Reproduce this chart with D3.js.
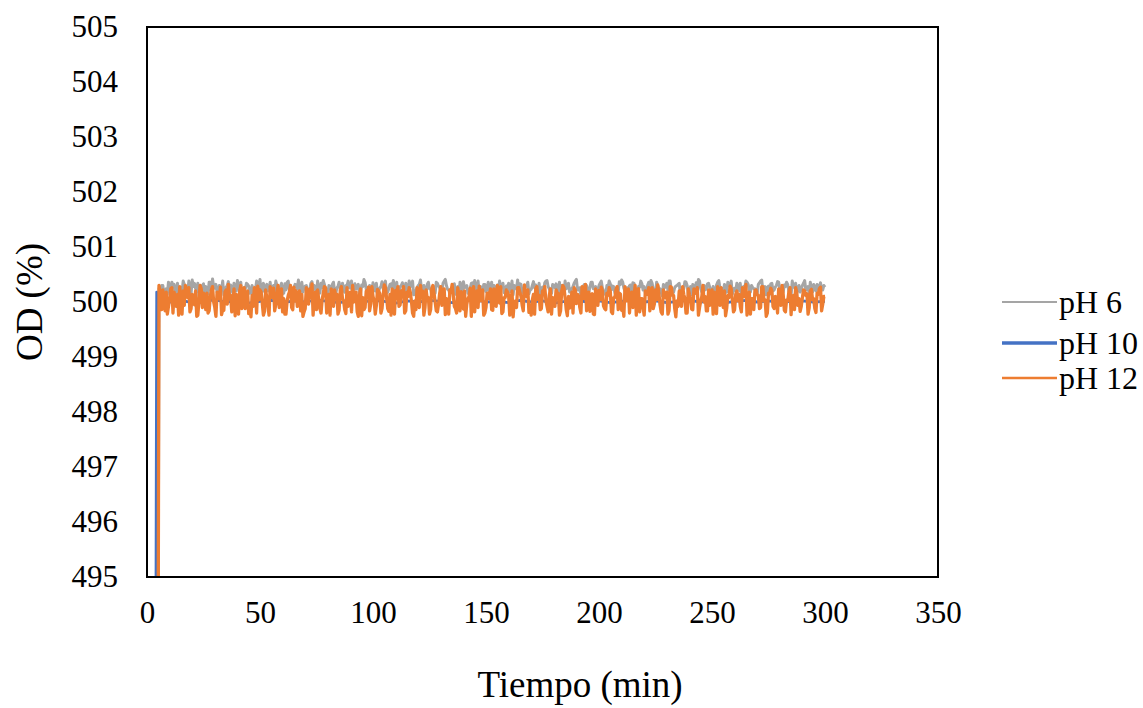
<!DOCTYPE html>
<html><head><meta charset="utf-8">
<script src="https://cdn.jsdelivr.net/npm/d3@7/dist/d3.min.js"></script>
<style>body{margin:0;background:#fff}svg{display:block}text{font-family:"Liberation Serif","Times New Roman",serif;fill:#000}</style>
</head><body><svg id="c" width="1143" height="708"></svg>
<script>
const xTicks=[0,50,100,150,200,250,300,350];
const yTicks=[495,496,497,498,499,500,501,502,503,504,505];
const seriesNames=["pH 6","pH 10","pH 12"];
const seriesColors=["#A5A5A5","#4472C4","#ED7D31"];
// start points (rise from 495)
const startPH6=[[5,495],[5.3,500.25]];
const startPH10=[[4,495],[4.3,500.18]];
const startPH12=[[5,495],[5.3,500.3]];
// readings on the whole minute, t = 6..300
const ph6=[500.22,500.30,500.18,500.14,500.28,500.36,500.32,500.20,500.12,500.26,
500.38,500.24,500.16,500.30,500.40,500.34,500.19,500.11,500.22,500.33,
500.28,500.15,500.36,500.42,500.25,500.18,500.30,500.22,500.13,500.27,
500.37,500.31,500.17,500.24,500.39,500.20,500.12,500.26,500.34,500.29,
500.16,500.10,500.23,500.35,500.41,500.28,500.19,500.32,500.24,500.14,
500.30,500.38,500.21,500.27,500.15,500.33,500.36,500.22,500.12,500.25,
500.31,500.40,500.26,500.18,500.29,500.14,500.23,500.37,500.30,500.16,
500.21,500.34,500.39,500.24,500.13,500.28,500.32,500.19,500.26,500.36,
500.11,500.22,500.30,500.38,500.25,500.17,500.33,500.27,500.14,500.31,
500.41,500.23,500.18,500.29,500.35,500.20,500.12,500.26,500.37,500.30,
500.16,500.24,500.33,500.39,500.22,500.14,500.28,500.35,500.19,500.26,
500.38,500.31,500.13,500.21,500.30,500.40,500.25,500.17,500.32,500.24,
500.11,500.27,500.36,500.29,500.18,500.34,500.41,500.23,500.15,500.26,
500.33,500.20,500.12,500.30,500.37,500.28,500.16,500.24,500.35,500.39,
500.22,500.14,500.27,500.32,500.19,500.36,500.25,500.10,500.21,500.31,
500.38,500.26,500.17,500.29,500.34,500.22,500.13,500.28,500.40,500.33,
500.18,500.24,500.30,500.15,500.23,500.37,500.31,500.20,500.12,500.27,
500.35,500.39,500.24,500.16,500.29,500.33,500.21,500.14,500.26,500.38,
500.30,500.18,500.25,500.34,500.41,500.22,500.11,500.28,500.32,500.19,
500.27,500.36,500.24,500.15,500.30,500.38,500.21,500.13,500.26,500.33,
500.29,500.17,500.24,500.37,500.40,500.25,500.14,500.22,500.31,500.35,
500.19,500.12,500.27,500.33,500.28,500.16,500.36,500.39,500.23,500.15,
500.30,500.24,500.11,500.26,500.34,500.38,500.21,500.18,500.29,500.32,
500.14,500.25,500.37,500.30,500.20,500.13,500.28,500.35,500.41,500.24,
500.16,500.22,500.33,500.27,500.12,500.19,500.31,500.39,500.26,500.17,
500.23,500.36,500.30,500.14,500.25,500.34,500.21,500.10,500.28,500.38,
500.32,500.18,500.26,500.24,500.15,500.35,500.40,500.22,500.13,500.29,
500.33,500.20,500.27,500.37,500.24,500.16,500.31,500.36,500.19,500.12,
500.28,500.34,500.25,500.18,500.30,500.39,500.23,500.14,500.26,500.32,
500.20,500.29,500.35,500.22,500.27];
// readings on the half minute, t = 6.5..299.5
const ph6Half=[500.30,500.16,500.24,500.36,500.20,500.28,500.14,500.34,500.26,500.18,
500.32,500.22,500.38,500.15,500.28,500.24,500.34,500.18,500.30,500.12,
500.26,500.36,500.20,500.28,500.32,500.16,500.24,500.38,500.22,500.30,
500.14,500.26,500.34,500.20,500.28,500.36,500.18,500.24,500.32,500.16,
500.30,500.22,500.38,500.26,500.14,500.34,500.28,500.20,500.36,500.24,
500.18,500.30,500.26,500.34,500.16,500.22,500.38,500.28,500.20,500.32,
500.24,500.14,500.36,500.26,500.30,500.18,500.34,500.22,500.28,500.38,
500.16,500.26,500.32,500.20,500.30,500.24,500.36,500.14,500.28,500.22,
500.34,500.18,500.30,500.26,500.38,500.20,500.24,500.32,500.16,500.28,
500.36,500.22,500.30,500.14,500.26,500.34,500.20,500.28,500.24,500.38,
500.18,500.32,500.26,500.22,500.36,500.16,500.30,500.24,500.34,500.20,
500.28,500.38,500.14,500.26,500.32,500.22,500.30,500.18,500.36,500.24,
500.28,500.16,500.34,500.26,500.20,500.38,500.30,500.22,500.24,500.32,
500.14,500.28,500.36,500.20,500.26,500.30,500.18,500.34,500.24,500.22,
500.38,500.28,500.16,500.32,500.26,500.20,500.36,500.30,500.24,500.14,
500.28,500.34,500.22,500.26,500.18,500.38,500.30,500.24,500.20,500.32,
500.16,500.28,500.36,500.22,500.30,500.26,500.14,500.34,500.24,500.20,
500.38,500.28,500.18,500.32,500.26,500.22,500.36,500.30,500.16,500.24,
500.34,500.20,500.28,500.38,500.22,500.26,500.14,500.32,500.30,500.18,
500.36,500.24,500.28,500.20,500.34,500.26,500.16,500.30,500.38,500.22,
500.28,500.24,500.18,500.32,500.36,500.20,500.26,500.30,500.14,500.34,
500.24,500.28,500.38,500.22,500.16,500.30,500.26,500.34,500.20,500.36,
500.24,500.18,500.32,500.28,500.22,500.38,500.14,500.26,500.30,500.34,
500.20,500.24,500.36,500.16,500.28,500.32,500.22,500.26,500.38,500.18,
500.30,500.24,500.34,500.20,500.28,500.14,500.36,500.26,500.22,500.32,
500.18,500.30,500.38,500.24,500.20,500.28,500.34,500.16,500.26,500.36,
500.22,500.30,500.24,500.18,500.32,500.38,500.20,500.28,500.26,500.14,
500.34,500.22,500.30,500.36,500.24,500.18,500.28,500.32,500.20,500.38,
500.26,500.16,500.30,500.24,500.34,500.22,500.28,500.36,500.18,500.26,
500.32,500.20,500.24,500.30];
const ph12=[500.12,500.22,499.84,499.78,500.05,500.26,500.18,499.92,499.76,499.88,
500.20,500.30,500.08,499.82,500.14,499.95,499.74,500.02,500.24,500.16,
499.86,499.80,500.10,500.28,499.90,500.18,500.06,499.77,499.85,500.22,
500.32,500.12,499.94,499.75,500.04,500.20,499.88,500.26,500.10,499.79,
499.73,499.92,500.16,500.29,500.22,499.98,499.83,500.08,499.76,500.14,
500.25,499.96,500.30,500.12,499.82,499.78,500.02,500.18,499.90,500.27,
500.20,500.06,499.84,499.74,499.88,500.12,500.24,500.33,500.10,499.86,
500.04,499.80,500.16,500.26,499.94,499.76,500.08,500.22,500.14,499.85,
500.28,500.02,499.79,499.92,500.18,500.30,500.06,499.82,500.12,499.75,
499.86,500.20,500.27,499.97,500.10,499.78,500.23,500.15,499.88,500.31,
500.08,499.83,499.76,500.04,500.21,500.28,499.95,500.12,499.80,500.18,
500.26,500.02,499.74,499.86,500.14,500.30,500.20,499.90,500.06,499.78,
500.24,500.16,499.84,499.96,500.28,500.10,499.77,500.02,500.22,500.32,
499.92,499.80,500.12,500.19,499.87,499.74,500.06,500.25,500.14,499.82,
500.20,500.29,500.04,499.76,499.90,500.16,500.24,499.85,500.10,500.30,
499.98,499.79,500.08,500.22,500.13,499.88,499.73,500.02,500.26,500.18,
499.94,500.31,500.10,499.81,499.76,500.14,500.24,500.05,499.86,500.20,
500.28,499.92,500.12,499.78,500.03,500.22,500.16,499.84,500.30,500.08,
499.75,499.89,500.18,500.26,499.97,500.11,499.80,500.24,500.32,500.06,
499.83,500.15,499.77,500.04,500.21,500.27,499.93,499.86,500.12,500.19,
499.79,500.08,500.28,500.16,499.85,499.74,500.02,500.24,500.12,499.90,
500.30,500.20,499.82,500.06,499.76,500.14,500.26,500.04,499.88,500.22,
500.31,499.95,499.78,500.10,500.18,499.84,500.27,500.12,499.73,499.92,
500.20,500.28,500.06,499.80,500.14,499.87,500.24,500.16,499.76,500.02,
500.30,500.10,499.84,499.94,500.22,500.18,499.79,500.08,500.26,499.90,
499.75,500.12,500.29,500.04,499.86,500.20,500.14,499.82,500.24,500.32,
499.97,499.78,500.06,500.21,500.13,499.88,500.28,500.02,499.74,500.16,
500.25,499.92,500.10,499.80,500.22,500.30,499.85,500.04,500.18,499.77,
500.12,500.26,499.94,499.83,500.08,500.20,500.15,499.89,500.23,500.06,
499.81,500.14,500.27,499.96,500.10];
const ph12Half=[499.86,500.02,500.18,499.92,500.24,499.80,500.06,500.14,500.28,499.78,
499.94,500.12,500.26,499.88,500.04,500.20,499.76,500.30,499.90,500.08,
500.16,499.84,500.22,500.00,499.74,500.10,500.27,499.86,500.18,499.96,
500.06,499.82,500.24,500.14,499.78,500.30,500.02,499.88,500.20,499.92,
500.12,500.26,499.80,500.04,500.18,499.76,500.22,499.94,500.28,500.08,
499.84,500.16,499.90,500.24,500.06,499.78,500.12,500.30,499.86,500.02,
499.92,500.20,500.14,499.82,500.26,499.96,500.08,499.76,500.18,500.22,
499.88,500.04,500.28,499.80,500.14,500.24,499.92,500.10,499.78,500.20,
500.06,499.86,500.26,500.12,499.82,500.00,500.18,499.74,500.24,500.08,
499.90,500.16,499.84,500.28,500.02,499.94,500.20,499.80,500.12,500.26,
499.88,500.14,500.24,499.78,500.06,499.92,500.20,500.28,499.84,500.10,
500.18,499.80,500.02,500.26,499.90,500.12,499.76,500.22,500.08,499.86,
500.30,500.00,499.82,500.16,499.94,500.24,500.06,499.78,500.18,500.12,
499.88,500.26,499.84,500.04,500.20,499.96,500.10,499.74,500.28,500.14,
499.90,500.02,500.22,499.80,500.16,500.06,499.86,500.24,499.92,500.12,
500.28,499.82,500.08,500.18,499.76,500.20,500.00,499.90,500.26,500.10,
499.84,500.14,500.22,499.94,500.04,499.78,500.28,500.12,499.88,500.18,
500.02,499.82,500.24,500.08,499.92,500.16,499.76,500.20,500.26,499.86,
500.10,500.00,499.80,500.22,500.14,499.90,500.28,500.06,499.84,500.18,
500.12,499.78,500.24,499.94,500.04,500.20,499.88,500.16,500.26,499.82,
500.08,500.22,499.86,500.14,499.92,500.28,500.02,499.80,500.18,500.10,
499.76,500.24,500.06,499.90,500.20,500.14,499.84,500.26,499.96,500.04,
500.16,499.82,500.22,500.08,499.78,500.28,500.12,499.88,500.02,500.20,
499.92,500.14,499.80,500.24,500.06,499.86,500.18,500.26,499.90,500.10,
500.00,499.84,500.22,500.16,499.78,500.12,500.28,499.94,500.04,500.20,
499.88,500.08,500.24,499.82,500.14,500.02,499.92,500.26,500.10,499.76,
500.18,500.06,499.86,500.22,500.12,499.90,500.28,500.04,499.80,500.16,
500.20,499.88,500.08,500.24,499.94,500.14,499.82,500.02,500.26,500.10,
499.86,500.18,500.06,499.92,500.22,500.12,499.78,500.20,500.04,499.88,
500.16,500.24,499.84,500.10];
// pH 10 readings every 5 min, t = 5..300
const ph10=[500.02,500.00,500.03,499.99,500.01,500.04,500.00,500.02,499.98,500.01,
500.03,499.99,500.02,500.00,500.04,500.01,499.99,500.02,500.00,500.03,
500.01,499.98,500.02,500.00,500.03,500.01,499.99,500.02,500.04,500.00,
500.01,499.99,500.03,500.00,500.02,499.98,500.01,500.03,500.00,500.02,
499.99,500.01,500.04,500.00,500.02,499.99,500.01,500.03,500.00,500.02,
499.98,500.01,500.03,500.00,500.02,499.99,500.01,500.02,500.00,500.01];

const W=1143,H=708,m={l:147,r:938,t:27,b:577};
const x=d3.scaleLinear().domain([0,350]).range([m.l,m.r]);
const y=d3.scaleLinear().domain([495,505]).range([m.b,m.t]);
const svg=d3.select("#c");
svg.append("defs").append("clipPath").attr("id","clip").append("rect")
 .attr("x",m.l).attr("y",m.t).attr("width",m.r-m.l).attr("height",m.b-m.t);

const pts=(vals,t0,step)=>vals.map((v,i)=>[t0+i*step,v]);
const merge=(start,a,b)=>start.concat(pts(a,6,1),pts(b,6.5,1).filter(()=>true)).sort((p,q)=>p[0]-q[0]);
const data=[
 merge(startPH6,ph6,ph6Half),
 startPH10.concat(pts(ph10,5,5)),
 merge(startPH12,ph12,ph12Half)
];
const widths=[3,2.8,3.3];
const line=d3.line().x(d=>x(d[0])).y(d=>y(d[1]));
const g=svg.append("g").attr("clip-path","url(#clip)");
[0,1,2].forEach(i=>{
 g.append("path").datum(data[i]).attr("d",line).attr("fill","none")
  .attr("stroke",seriesColors[i]).attr("stroke-width",widths[i]).attr("stroke-linejoin","round");
});

svg.append("rect").attr("x",m.l).attr("y",m.t).attr("width",m.r-m.l).attr("height",m.b-m.t)
 .attr("fill","none").attr("stroke","#000").attr("stroke-width",2);

const ya=svg.append("g").attr("transform",`translate(${m.l},0)`)
 .call(d3.axisLeft(y).tickValues(yTicks).tickSize(0).tickPadding(29).tickFormat(d3.format("d")));
ya.select(".domain").remove();
ya.attr("font-family","Liberation Serif").attr("font-size",31);
ya.selectAll("text").attr("fill","#000");
const xa=svg.append("g").attr("transform",`translate(0,${m.b})`)
 .call(d3.axisBottom(x).tickValues(xTicks).tickSize(0).tickPadding(24).tickFormat(d3.format("d")));
xa.select(".domain").remove();
xa.attr("font-family","Liberation Serif").attr("font-size",31);
xa.selectAll("text").attr("fill","#000");

svg.append("text").attr("x",580).attr("y",697).attr("text-anchor","middle").attr("font-size",37).text("Tiempo (min)");
svg.append("text").attr("transform","translate(42,302) rotate(-90)").attr("text-anchor","middle").attr("font-size",37).text("OD (%)");

const legY=[302,343,378],legW=[1.8,3.5,2.5];
seriesNames.forEach((n,i)=>{
 svg.append("line").attr("x1",1002).attr("x2",1057).attr("y1",legY[i]).attr("y2",legY[i])
  .attr("stroke",seriesColors[i]).attr("stroke-width",legW[i]);
 svg.append("text").attr("x",1059).attr("y",legY[i]+11).attr("font-size",32).text(n);
});
</script></body></html>
